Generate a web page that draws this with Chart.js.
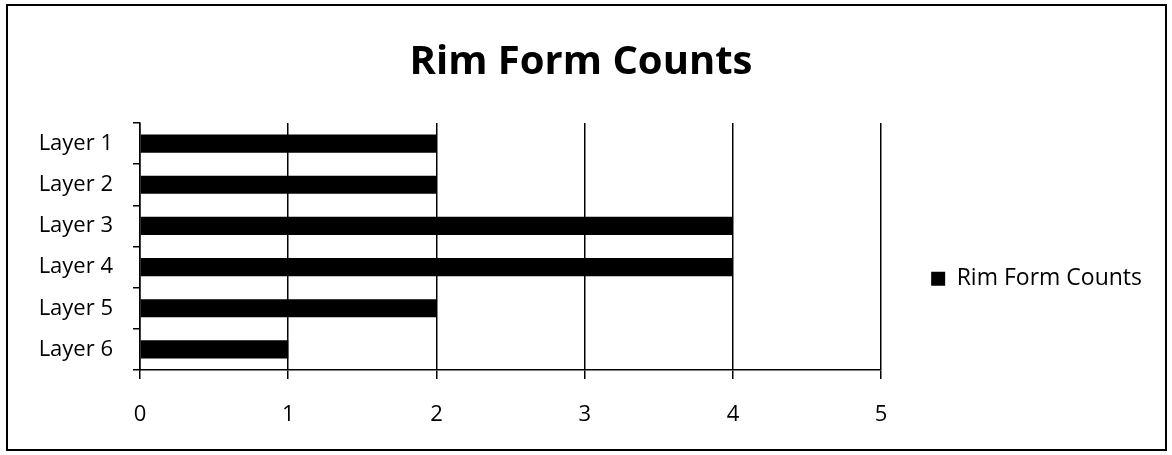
<!DOCTYPE html>
<html>
<head>
<meta charset="utf-8">
<script src="https://cdn.jsdelivr.net/npm/chart.js@4.4.0/dist/chart.umd.min.js"></script>
<style>
  html, body { margin: 0; padding: 0; background: #fff; }
  #wrap { width: 1172px; height: 455px; }
</style>
</head>
<body>
<div id="wrap"><canvas id="rim_chart" width="1172" height="455"></canvas></div>
<script>
const layers = ['Layer 1', 'Layer 2', 'Layer 3', 'Layer 4', 'Layer 5', 'Layer 6'];
const rimCounts = [2, 2, 4, 4, 2, 1];
const xTicks = [0, 1, 2, 3, 4, 5];

const frame = {
    id: 'frame',
    beforeDraw(chart) {
        const c = chart.ctx;
        c.save();
        c.fillStyle = '#fff';
        c.fillRect(0, 0, chart.width, chart.height);
        c.strokeStyle = '#000';
        c.lineWidth = 2;
        c.strokeRect(7, 5, 1159, 445);
        c.restore();
    }
};

const ctx = document.getElementById('rim_chart').getContext('2d');

new Chart(ctx, {
    type: 'bar',
    data: {
        labels: layers,
        datasets: [{
            label: 'Rim Form Counts',
            data: rimCounts,
            backgroundColor: '#000',
            borderWidth: 0,
            categoryPercentage: 1,
            barPercentage: 0.44
        }]
    },
    options: {
        indexAxis: 'y',
        responsive: false,
        animation: false,
        layout: { padding: { left: 10, right: 20, top: 10, bottom: 25 } },
        scales: {
            x: {
                min: 0,
                max: 5,
                afterFit(scale) { scale.height = 60; },
                afterBuildTicks(scale) { scale.ticks = xTicks.map(v => ({ value: v })); },
                ticks: { color: '#000', padding: 23, font: { family: 'Open Sans', size: 22 } },
                grid: { color: '#000', lineWidth: 1.5, tickLength: 9 },
                border: { color: '#000', width: 1.5 }
            },
            y: {
                afterFit(scale) { scale.width = 130; },
                ticks: { color: '#000', padding: 20, font: { family: 'Open Sans', size: 22 } },
                grid: { drawOnChartArea: false, color: '#000', lineWidth: 1.5, tickLength: 7 },
                border: { color: '#000', width: 1.5 }
            }
        },
        plugins: {
            title: {
                display: true,
                text: 'Rim Form Counts',
                color: '#000',
                font: { family: 'Open Sans', size: 40, weight: 'bold' },
                padding: { top: 29, bottom: 36 }
            },
            legend: {
                position: 'right',
                fullSize: false,
                title: { display: true, text: '', padding: { top: 50, bottom: 0 } },
                labels: {
                    color: '#000',
                    boxWidth: 14,
                    boxHeight: 14,
                    padding: 50,
                    font: { family: 'Open Sans', size: 23 }
                }
            },
            tooltip: { enabled: false }
        }
    },
    plugins: [frame]
});
</script>
</body>
</html>
